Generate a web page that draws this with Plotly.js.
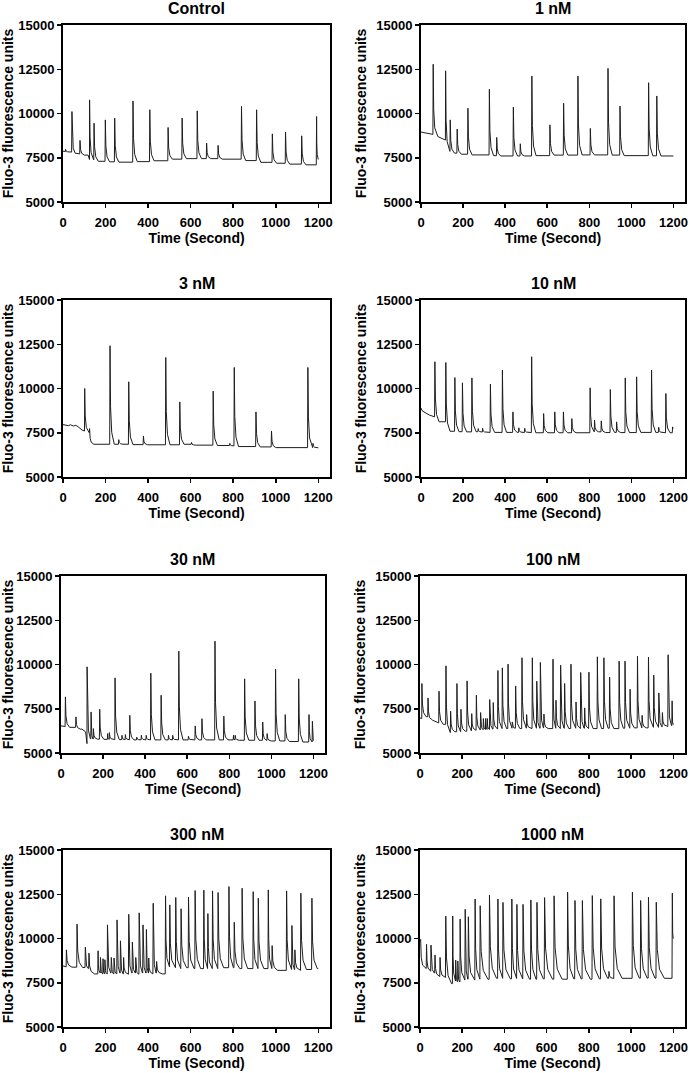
<!DOCTYPE html>
<html><head><meta charset="utf-8">
<script src="https://cdn.plot.ly/plotly-3.0.1.min.js"></script>
<style>html,body{margin:0;padding:0;background:#fff}#chart{width:690px;height:1073px}</style>
</head><body><div id="chart"></div>
<script>
// ---------- text ----------
const panelTitles = ["Control", "1 nM", "3 nM", "10 nM", "30 nM", "100 nM", "300 nM", "1000 nM"];
const xTickVals = [0, 200, 400, 600, 800, 1000, 1200];
const yTickVals = [5000, 7500, 10000, 12500, 15000];
const xAxisTitle = "Time (Second)";
const yAxisTitle = "Fluo-3 fluorescence units";

// ---------- data (time s, fluorescence units) ----------
// Control
const ctrlSpikeT    = [12, 42, 80, 125, 146, 199, 243, 329, 408, 494, 560, 631, 675, 729, 839, 910, 984, 1046, 1122, 1192];
const ctrlSpikePeak = [7980, 10110, 8480, 10770, 9450, 9640, 9740, 10710, 10210, 9210, 9740, 10150, 8330, 8200, 10400, 10210, 8850, 8950, 8740, 9830];
const ctrlSpikeBase = [7850, 7820, 7720, 7400, 7380, 7300, 7270, 7250, 7280, 7330, 7420, 7450, 7450, 7450, 7420, 7340, 7240, 7190, 7140, 7100];
const ctrlAnchorT = [0, 60, 118, 1200];
const ctrlAnchorV = [7870, 7760, 7650, 7400];

// 1 nM
const nm1SpikeT    = [58, 117, 139, 172, 223, 325, 360, 439, 472, 527, 613, 678, 746, 805, 889, 946, 1082, 1121];
const nm1SpikePeak = [12780, 12410, 9640, 9120, 10300, 11370, 8650, 10360, 8290, 12120, 9360, 10580, 12120, 9160, 12550, 10420, 11740, 10990];
const nm1SpikeBase = [8820, 8500, 7860, 7760, 7700, 7660, 7620, 7600, 7600, 7600, 7620, 7650, 7650, 7660, 7660, 7650, 7620, 7610];
const nm1AnchorT = [0, 40, 80, 105, 1200];
const nm1AnchorV = [8950, 8860, 8700, 8560, 7600];

// 3 nM
const nm3SpikeT    = [102, 125, 221, 262, 309, 378, 483, 549, 604, 706, 784, 805, 907, 980, 1151, 1175];
const nm3SpikePeak = [10000, 7735, 12415, 7110, 10380, 7320, 11755, 9245, 6950, 9850, 6900, 11190, 8680, 7600, 11190, 6900];
const nm3SpikeBase = [7600, 7500, 6850, 6850, 6850, 6830, 6820, 6820, 6850, 6800, 6780, 6760, 6720, 6700, 6660, 6660];
const nm3AnchorT = [0, 25, 35, 50, 60, 70, 90, 1200];
const nm3AnchorV = [7960, 7900, 7950, 7880, 7920, 7850, 7650, 6650];

// 10 nM
const nm10SpikeT    = [66, 118, 161, 197, 242, 272, 293, 330, 387, 437, 465, 493, 526, 583, 636, 677, 717, 804, 825, 857, 900, 930, 971, 1025, 1096, 1130, 1164, 1196];
const nm10SpikePeak = [11510, 11470, 10620, 10320, 10600, 7735, 7750, 10245, 11040, 8680, 7780, 7750, 11795, 8585, 8680, 8680, 8300, 10040, 8210, 8170, 9945, 8115, 10600, 10660, 11040, 7810, 9720, 7830];
const nm10SpikeBase = [8400, 8120, 7585, 7560, 7550, 7560, 7540, 7520, 7520, 7520, 7520, 7510, 7510, 7500, 7500, 7500, 7500, 7500, 7550, 7550, 7510, 7520, 7510, 7510, 7520, 7520, 7500, 7500];
const nm10AnchorT = [0, 5, 19, 40, 1200];
const nm10AnchorV = [8900, 8750, 8640, 8500, 7750];

// 30 nM
const nm30SpikeT    = [21, 71, 124, 143, 154, 184, 222, 230, 257, 290, 306, 327, 360, 382, 405, 427, 476, 511, 531, 560, 606, 638, 670, 732, 774, 820, 828, 873, 922, 959, 980, 1020, 1066, 1130, 1179, 1195];
const nm30SpikePeak = [8170, 7040, 9870, 7320, 6380, 7470, 6100, 6150, 9245, 6000, 6040, 7130, 5900, 6000, 6000, 9510, 8265, 6000, 6000, 10755, 5950, 6530, 6940, 11320, 7080, 6000, 6000, 9190, 7940, 6750, 6095, 9740, 7170, 9190, 7170, 6790];
const nm30SpikeBase = [6500, 6450, 5530, 5800, 5790, 5780, 5770, 5770, 5760, 5760, 5750, 5750, 5740, 5740, 5740, 5740, 5740, 5740, 5740, 5740, 5740, 5740, 5740, 5740, 5740, 5740, 5740, 5720, 5720, 5720, 5700, 5680, 5680, 5650, 5620, 5620];
const nm30AnchorT = [0, 100, 117, 1200];
const nm30AnchorV = [6530, 6350, 6190, 5700];

// 100 nM
const nm100SpikeT    = [9, 38, 90, 123, 145, 175, 194, 223, 245, 267, 287, 300, 311, 319, 330, 347, 369, 390, 417, 437, 453, 483, 505, 532, 553, 570, 587, 630, 644, 666, 685, 715, 739, 761, 780, 800, 840, 871, 898, 943, 971, 995, 1030, 1052, 1082, 1107, 1131, 1148, 1175, 1194];
const nm100SpikePeak = [8925, 8110, 8490, 9925, 7360, 8925, 7470, 9075, 7225, 8265, 7285, 6945, 6950, 6950, 8020, 7850, 9660, 9810, 10020, 6755, 8790, 10380, 7170, 10380, 9057, 10115, 7200, 10300, 7980, 9960, 8925, 10020, 7885, 9550, 7550, 9565, 10435, 10380, 9285, 10190, 10190, 8605, 10470, 7130, 10415, 9395, 8395, 7285, 10550, 7945];
const nm100SpikeBase = [6950, 7050, 6700, 6620, 6150, 6200, 6200, 6230, 6250, 6280, 6300, 6320, 6330, 6330, 6330, 6350, 6350, 6380, 6380, 6400, 6400, 6380, 6400, 6380, 6400, 6400, 6420, 6380, 6400, 6380, 6400, 6380, 6400, 6380, 6400, 6380, 6380, 6380, 6400, 6380, 6400, 6400, 6420, 6420, 6420, 6450, 6450, 6480, 6500, 6550];
const nm100AnchorT = [0, 60, 1200];
const nm100AnchorV = [6980, 6850, 6600];

// 300 nM
const nm300SpikeT    = [16, 66, 105, 122, 165, 176, 188, 197, 209, 227, 240, 254, 270, 285, 309, 326, 342, 358, 376, 392, 403, 424, 440, 482, 502, 530, 555, 590, 621, 662, 681, 703, 729, 780, 805, 842, 894, 918, 965, 983, 1051, 1076, 1090, 1118, 1170];
const nm300SpikePeak = [9360, 10810, 9510, 9175, 9305, 8930, 8860, 8800, 10770, 8930, 8900, 11050, 9870, 8930, 11370, 9800, 8930, 11450, 10770, 10510, 8900, 11990, 8700, 12410, 11900, 12320, 11680, 12340, 12710, 12730, 11410, 12690, 12600, 12935, 10920, 12840, 12650, 12275, 12745, 9600, 12690, 10735, 9360, 12560, 12275];
const nm300SpikeBase = [8400, 8380, 8360, 8300, 8000, 8050, 8000, 8000, 8000, 8050, 8000, 8000, 8050, 8000, 7980, 8050, 8050, 7980, 8050, 8050, 8050, 8000, 8050, 8000, 8400, 8350, 8300, 8350, 8300, 8300, 8300, 8300, 8300, 8350, 8350, 8300, 8300, 8300, 8300, 8300, 8200, 8250, 8250, 8200, 8250];
const nm300AnchorT = [0, 1200];
const nm300AnchorV = [8450, 8300];

// 1000 nM
const nm1000SpikeT    = [3, 31, 52, 71, 95, 122, 155, 169, 179, 190, 214, 229, 261, 285, 329, 369, 393, 435, 459, 488, 525, 554, 590, 635, 699, 734, 769, 816, 856, 895, 919, 1006, 1045, 1082, 1119, 1195];
const nm1000SpikePeak = [9950, 9670, 9630, 9070, 8930, 11270, 11270, 8780, 8730, 11100, 11650, 11230, 12230, 11850, 12460, 12230, 12040, 12230, 11930, 11930, 12180, 12040, 12310, 12410, 12615, 12145, 12145, 12425, 12240, 8140, 12410, 12615, 12145, 12330, 12050, 12560];
const nm1000SpikeBase = [9900, 8300, 8150, 8050, 7850, 7800, 7450, 7600, 7550, 7550, 7650, 7700, 7650, 7700, 7700, 7750, 7750, 7720, 7740, 7720, 7700, 7700, 7720, 7700, 7700, 7720, 7720, 7700, 7720, 7750, 7740, 7750, 7760, 7760, 7760, 7750];
const nm1000AnchorT = [0, 1200];
const nm1000AnchorV = [9900, 10000];

// ---------- build ----------
const panels = [
  {sT: ctrlSpikeT, sP: ctrlSpikePeak, sB: ctrlSpikeBase, aT: ctrlAnchorT, aV: ctrlAnchorV},
  {sT: nm1SpikeT, sP: nm1SpikePeak, sB: nm1SpikeBase, aT: nm1AnchorT, aV: nm1AnchorV},
  {sT: nm3SpikeT, sP: nm3SpikePeak, sB: nm3SpikeBase, aT: nm3AnchorT, aV: nm3AnchorV},
  {sT: nm10SpikeT, sP: nm10SpikePeak, sB: nm10SpikeBase, aT: nm10AnchorT, aV: nm10AnchorV},
  {sT: nm30SpikeT, sP: nm30SpikePeak, sB: nm30SpikeBase, aT: nm30AnchorT, aV: nm30AnchorV},
  {sT: nm100SpikeT, sP: nm100SpikePeak, sB: nm100SpikeBase, aT: nm100AnchorT, aV: nm100AnchorV},
  {sT: nm300SpikeT, sP: nm300SpikePeak, sB: nm300SpikeBase, aT: nm300AnchorT, aV: nm300AnchorV},
  {sT: nm1000SpikeT, sP: nm1000SpikePeak, sB: nm1000SpikeBase, aT: nm1000AnchorT, aV: nm1000AnchorV}
];
// style: spike decay time scale per panel
const decayScale = [1, 1, 1, 1, 1, 1, 1.3, 1.9];
// geometry in page pixels [left, right, top]
const geom = [
  [63, 330, 25], [421, 685, 25],
  [63, 330, 300], [421, 685, 300],
  [61, 325, 576], [420, 685, 576],
  [63, 330, 850], [420, 685, 850]
];
const PLOT_H = 177, W = 690, H = 1073;
const FONT = "Arial, 'Liberation Sans', Helvetica, sans-serif";

function buildTrace(p, scale) {
  const ev = [];
  p.sT.forEach((t, i) => ev.push({t: t, s: true, p: p.sP[i], b: p.sB[i]}));
  p.aT.forEach((t, i) => ev.push({t: t, s: false, v: p.aV[i]}));
  ev.sort((a, b) => a.t - b.t);
  const xs = [], ys = [];
  ev.forEach((e, k) => {
    const nx = ev[k + 1];
    if (!e.s) { xs.push(e.t); ys.push(e.v); return; }
    const prev = ev[k - 1];
    const gapPrev = prev ? e.t - prev.t : 10;
    const nl = nx ? (nx.s ? nx.b : nx.v) : e.b;
    const gap = nx ? nx.t - e.t : 30;
    xs.push(e.t - Math.min(1.5, gapPrev * 0.08)); ys.push(e.b);
    xs.push(e.t); ys.push(e.p);
    const amp = e.p - nl;
    [[2.5, 0.38], [8, 0.12], [20, 0]].forEach(([d, f]) => {
      const dt = Math.min(d * scale, gap * (d / 24));
      xs.push(e.t + dt); ys.push(nl + amp * f);
    });
  });
  return {xs, ys};
}

const traces = [], layout = {
  width: W, height: H, margin: {l: 0, r: 0, t: 0, b: 0},
  paper_bgcolor: '#fff', plot_bgcolor: '#fff', showlegend: false,
  font: {family: FONT, color: '#000'},
  annotations: []
};

panels.forEach((p, i) => {
  const n = i + 1;
  const {xs, ys} = buildTrace(p, decayScale[i]);
  traces.push({
    type: 'scatter', mode: 'lines', x: xs, y: ys,
    xaxis: 'x' + (n === 1 ? '' : n), yaxis: 'y' + (n === 1 ? '' : n),
    line: {color: '#1e1e1e', width: 1}, hoverinfo: 'skip'
  });
  const [l, r, t] = geom[i];
  const xd = [l / W, r / W];
  const yd = [1 - (t + PLOT_H) / H, 1 - t / H];
  const common = {
    showline: true, linecolor: '#000', linewidth: 2, mirror: true,
    ticks: 'outside', ticklen: 4, tickwidth: 1.5, tickcolor: '#000',
    showgrid: false, zeroline: false, fixedrange: true,
    tickfont: {family: FONT, size: 13, color: '#000', weight: 'bold'}
  };
  layout['xaxis' + (n === 1 ? '' : n)] = Object.assign({}, common, {
    domain: xd, range: [0, 1255], tickvals: xTickVals, ticktext: xTickVals.map(String),
    anchor: 'y' + (n === 1 ? '' : n), ticklabelstandoff: 3,
    title: {text: xAxisTitle, font: {family: FONT, size: 14, color: '#000', weight: 'bold'}, standoff: 4}
  });
  layout['yaxis' + (n === 1 ? '' : n)] = Object.assign({}, common, {
    domain: yd, range: [5000, 15000], tickvals: yTickVals, ticktext: yTickVals.map(String),
    anchor: 'x' + (n === 1 ? '' : n),
    title: {text: yAxisTitle, font: {family: FONT, size: 14, color: '#000', weight: 'bold'}, standoff: 6}
  });
  layout.annotations.push({
    text: panelTitles[i], xref: 'paper', yref: 'paper',
    x: (xd[0] + xd[1]) / 2, y: 1 - (t - 16) / H, xanchor: 'center', yanchor: 'middle',
    showarrow: false, font: {family: FONT, size: 16, color: '#000', weight: 'bold'}
  });
});

Plotly.newPlot('chart', traces, layout, {staticPlot: true, displayModeBar: false});
</script>
</body></html>
